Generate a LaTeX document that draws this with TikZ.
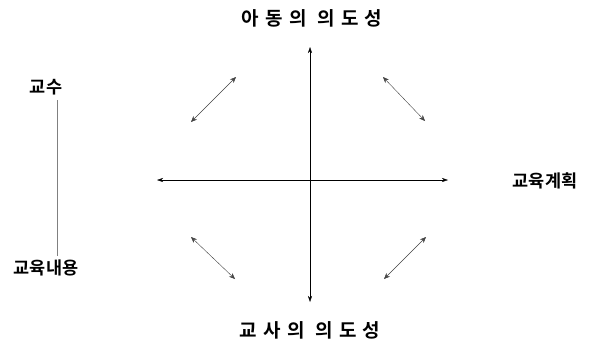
\documentclass[tikz,border=0pt]{standalone}
\usepackage{fontspec}
\setmainfont{Noto Sans CJK KR}[BoldFont={* Bold}]
\usetikzlibrary{arrows.meta,positioning}

\tikzset{
  lbl/.style={font=\fontsize{17.5}{18}\selectfont\bfseries, inner sep=0pt},
  widelbl/.style={lbl, font=\fontsize{19}{20}\selectfont\bfseries\addfontfeature{LetterSpace=33}},
  axis/.style={<->, >={Stealth[length=6pt,width=4pt]}, thin},
  diag/.style={<->, >={Stealth[length=6pt,width=5pt]}, thin, black!75}
}

\begin{document}
\begin{tikzpicture}[x=1pt,y=-1pt]
\useasboundingbox (0,0) rectangle (592,351);
% Labels
\node[widelbl] (child) at (312,18) {아동의 의도성};
\node[widelbl] (teacher) at (310,330) {교사의 의도성};
\node[lbl] (plan) at (545,181) {교육계획};
\node[lbl] (teach) at (46,87) {교수};
\node[lbl] (content) at (46,268) {교육내용};

% Axes
\coordinate (top) at (310,47);
\coordinate (bot) at (310,302);
\coordinate (lft) at (157,180);
\coordinate (rgt) at (448,180);
\draw[axis] (top) -- (bot);
\draw[axis] (lft) -- (rgt);
\coordinate (a) at (57,100);
\coordinate (b) at (57,256);
\draw[gray, thin] (a) -- (b);

% Diagonal arrows
\coordinate (tl1) at (191,122); \coordinate (tl2) at (236,77);
\coordinate (tr1) at (383,77);  \coordinate (tr2) at (425,121);
\coordinate (bl1) at (191,237); \coordinate (bl2) at (235,279);
\coordinate (br1) at (384,279); \coordinate (br2) at (426,237);
\draw[diag] (tl1) -- (tl2);
\draw[diag] (tr1) -- (tr2);
\draw[diag] (bl1) -- (bl2);
\draw[diag] (br1) -- (br2);
\end{tikzpicture}
\end{document}
